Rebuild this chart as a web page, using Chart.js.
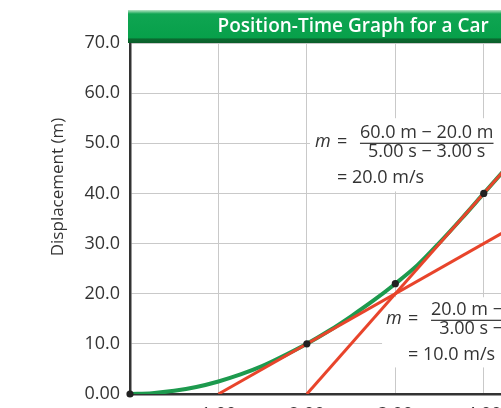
<!DOCTYPE html>
<html><head><meta charset="utf-8">
<script src="https://cdn.jsdelivr.net/npm/chart.js@4.4.1/dist/chart.umd.min.js"></script>
<style>
html,body{margin:0;padding:0;overflow:hidden;background:#fff;width:501px;height:408px}
#wrap{position:absolute;left:0;top:0;width:600px;height:440px}
</style>
</head><body><div id="wrap"><canvas id="c" width="600" height="440"></canvas></div>
<script>
// ---- data ----
const curveTimes = [0, 0.25, 0.5, 0.75, 1.0, 1.25, 1.5, 1.75, 2.0, 2.25, 2.5, 2.75, 3.0, 3.25, 3.5, 3.75, 4.0, 4.25, 4.5, 4.75, 5.0];
const curvePos   = [0, 0.16, 0.63, 1.4, 2.5, 3.9, 5.6, 7.7, 10.0, 12.6, 15.5, 18.6, 22.0, 25.7, 30.2, 35.0, 40.0, 45.0, 50.0, 55.0, 60.0];
const slope10Times = [1.0, 5.0];
const slope10Pos   = [0.0, 40.0];
const slope20Times = [2.0, 5.0];
const slope20Pos   = [0.0, 60.0];
const dotTimes = [0, 2.0, 3.0, 4.0];
const dotPos   = [0, 10.0, 22.0, 40.0];
const xTickLabels = ['', '1.00', '2.00', '3.00', '4.00', '5.00'];
const yTickLabels = ['0.00', '10.0', '20.0', '30.0', '40.0', '50.0', '60.0', '70.0'];
const chartTitle = 'Position-Time Graph for a Car';
const yAxisTitle = 'Displacement (m)';
const note20 = { num: '60.0 m \u2212 20.0 m', den: '5.00 s \u2212 3.00 s', res: '= 20.0 m/s' };
const note10 = { num: '20.0 m \u2212 10.0 m', den: '3.00 s \u2212 2.00 s', res: '= 10.0 m/s' };

const pts = (xs, ys) => xs.map((x, i) => ({ x: x, y: ys[i] }));
const FONT = '"Open Sans", "Noto Sans", sans-serif';
const TXT = '#333333';

const decor = {
  id: 'decor',
  beforeDatasetsDraw(chart) {
    const ctx = chart.ctx, xs = chart.scales.x, ys = chart.scales.y;
    ctx.save();
    ctx.fillStyle = '#ffffff';
    const b1 = { l: xs.getPixelForValue(2.035), t: ys.getPixelForValue(55.0), b: ys.getPixelForValue(40.4) };
    ctx.fillRect(b1.l, b1.t, 300, b1.b - b1.t);
    const b2 = { l: xs.getPixelForValue(2.85), t: ys.getPixelForValue(19.3), b: ys.getPixelForValue(5.3) };
    ctx.fillRect(b2.l, b2.t, 300, b2.b - b2.t);
    drawNote(ctx, b1.l + 5, b1.t, note20);
    drawNote(ctx, b2.l + 4, b2.t - 2, note10);
    ctx.restore();
  },
  afterDraw(chart) {
    const ctx = chart.ctx, a = chart.chartArea;
    ctx.save();
    const top = 10, bot = a.top;
    const g = ctx.createLinearGradient(0, top, 0, bot);
    g.addColorStop(0, '#b9e5c6');
    g.addColorStop(0.12, '#0fa552');
    g.addColorStop(0.84, '#07a04a');
    g.addColorStop(0.88, '#0a6a30');
    g.addColorStop(1, '#0b5e2b');
    ctx.fillStyle = g;
    ctx.fillRect(a.left - 2, top, a.right - a.left + 2, bot - top);
    ctx.fillStyle = '#ffffff';
    ctx.font = '600 19px ' + FONT;
    ctx.textAlign = 'center';
    ctx.textBaseline = 'middle';
    ctx.fillText(chartTitle, (a.left + a.right) / 2 + 2, 27);
    ctx.translate(58, 187);
    ctx.rotate(-Math.PI / 2);
    ctx.fillStyle = TXT;
    ctx.font = '17px ' + FONT;
    ctx.fillText(yAxisTitle, 0, 0);
    ctx.restore();
  }
};

function drawNote(ctx, left, top, n) {
  ctx.fillStyle = TXT;
  ctx.textBaseline = 'middle';
  ctx.font = 'italic 18px ' + FONT;
  ctx.textAlign = 'left';
  const lineY = top + 24;
  ctx.fillText('m', left, lineY);
  ctx.font = '18px ' + FONT;
  ctx.fillText('=', left + 22, lineY);
  const fl = left + 45;
  const wn = ctx.measureText(n.num).width, wd = ctx.measureText(n.den).width;
  const w = Math.max(wn, wd);
  const cx = fl + w / 2;
  ctx.textAlign = 'center';
  ctx.fillText(n.num, cx, lineY - 9);
  ctx.fillText(n.den, cx, lineY + 10);
  ctx.fillRect(fl, lineY + 0.5, w, 1.2);
  ctx.textAlign = 'left';
  ctx.fillText(n.res, left + 22, lineY + 36);
}

new Chart(document.getElementById('c'), {
  type: 'scatter',
  data: {
    datasets: [
      { data: pts(curveTimes, curvePos), showLine: true, borderColor: '#1d9a4e', borderWidth: 4, pointRadius: 0, cubicInterpolationMode: 'monotone', order: 3 },
      { data: pts(slope10Times, slope10Pos), showLine: true, borderColor: '#e8442b', borderWidth: 3, pointRadius: 0, order: 2 },
      { data: pts(slope20Times, slope20Pos), showLine: true, borderColor: '#e8442b', borderWidth: 3, pointRadius: 0, order: 2 },
      { data: pts(dotTimes, dotPos), showLine: false, pointRadius: 3.6, pointBackgroundColor: '#222', pointBorderWidth: 0, clip: false, order: 1 }
    ]
  },
  options: {
    responsive: false,
    animation: false,
    devicePixelRatio: 1,
    layout: { padding: { top: 43, right: 25, left: 0, bottom: 0 } },
    plugins: { legend: { display: false }, tooltip: { enabled: false }, title: { display: false } },
    scales: {
      x: {
        type: 'linear', min: 0, max: 5,
        afterFit: s => { s.height = 46; },
        grid: { color: '#c9c9c9', lineWidth: 1, drawTicks: false },
        border: { color: '#333', width: 2.5 },
        ticks: { stepSize: 1, padding: 10, color: TXT, font: { family: FONT, size: 18 }, maxRotation: 0, autoSkip: false,
                 callback: (v, i) => xTickLabels[i] }
      },
      y: {
        type: 'linear', min: 0, max: 70,
        afterFit: s => { s.width = 130; },
        grid: { color: '#c9c9c9', lineWidth: 1, drawTicks: false },
        border: { color: '#333', width: 2.5 },
        ticks: { stepSize: 10, padding: 10, color: TXT, font: { family: FONT, size: 18 }, autoSkip: false,
                 callback: (v, i) => yTickLabels[i] }
      }
    }
  },
  plugins: [decor]
});
</script>
</body></html>
